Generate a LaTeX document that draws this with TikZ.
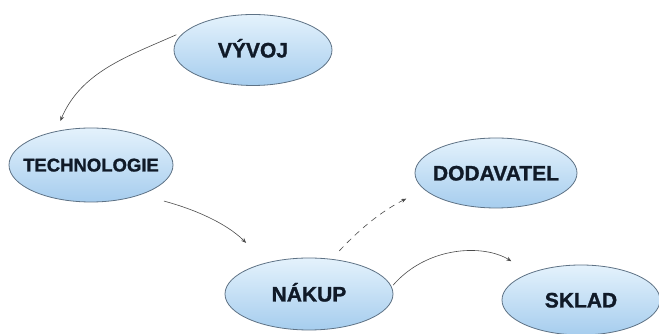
\documentclass[tikz,border=0pt]{standalone}
\usepackage{fontspec}
\newfontfamily\blobfont{Liberation Sans}[BoldFeatures={FakeBold=1.2}]
\usetikzlibrary{arrows.meta, positioning, shapes.geometric}

\definecolor{blobtop}{HTML}{E4F2FC}
\definecolor{blobbot}{HTML}{A6CDEE}
\definecolor{blobline}{HTML}{5E7285}
\definecolor{blobtext}{HTML}{101A28}
\definecolor{linkgray}{HTML}{4A4A4A}
\newcommand{\blobtxt}[1]{\makebox[0pt]{#1}}

\begin{document}
\begin{tikzpicture}[
  x=1pt, y=1pt,
  blob/.style = {ellipse, draw=blobline, line width=0.8pt, top color=blobtop, bottom color=blobbot,
    text=blobtext, font=\blobfont\bfseries\fontsize{21}{24}\selectfont,
    text height=15pt, text depth=0pt, inner sep=0pt, minimum height=72pt},
  arrow/.style = {draw=linkgray, line width=0.6pt, -{Stealth[length=5pt, width=4pt]}}
]
\useasboundingbox (0,0) rectangle (659,334);

% VYVOJ ellipse
\node[blob, minimum width=158pt, minimum height=71pt] (vyvoj) at (253,284) {\blobtxt{VÝVOJ}};

% TECHNOLOGIE ellipse (smaller text)
\node[blob, minimum width=164pt, minimum height=74pt, text height=13pt,
  font=\blobfont\bfseries\fontsize{18.5}{22}\selectfont] (tech) at (91,169) {\blobtxt{TECHNOLOGIE}};

% NAKUP ellipse
\node[blob, minimum width=168pt] (nakup) at (309,40) {\blobtxt{NÁKUP}};

% DODAVATEL ellipse
\node[blob, minimum width=162pt, minimum height=70pt] (dodav) at (496,161) {\blobtxt{DODAVATEL}};

% SKLAD ellipse
\node[blob, minimum width=158pt, minimum height=70pt] (sklad) at (581,34) {\blobtxt{SKLAD}};

% VYVOJ -> TECHNOLOGIE
\draw[arrow, shorten <=12pt, shorten >=11pt] (vyvoj.163) to[out=204, in=67] (tech.136);

% TECHNOLOGIE -> NAKUP
\draw[arrow, shorten <=24pt, shorten >=28pt] (tech.-31) to[out=-15, in=135] (nakup.144);

% NAKUP -> DODAVATEL (dashed)
\draw[arrow, dash pattern=on 6pt off 5pt, shorten <=11pt, shorten >=20pt] (nakup.57) to[bend left=10] (dodav.193);

% NAKUP -> SKLAD
\draw[arrow, shorten <=2pt, shorten >=22pt] (nakup.5) to[out=49, in=148] (sklad.152);

\end{tikzpicture}
\end{document}
